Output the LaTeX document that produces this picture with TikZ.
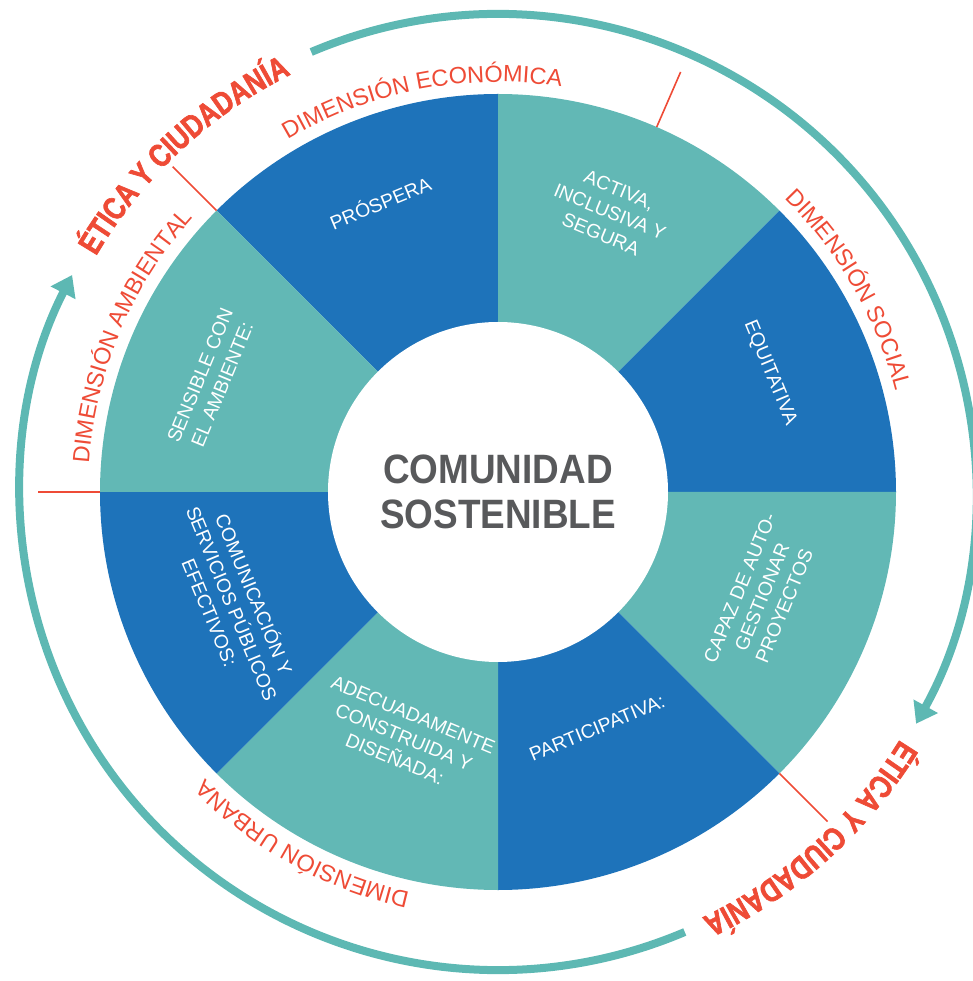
\documentclass[tikz,border=0pt]{standalone}
\usepackage{fontspec}
\setmainfont{Liberation Sans}
\newfontfamily\hubfont[FakeStretch=0.9]{Liberation Sans Bold}
\newfontfamily\eticafont[FakeStretch=0.8, FakeBold=2]{Liberation Sans Bold}
\usetikzlibrary{decorations.text, arrows.meta}
\definecolor{segblue}{HTML}{1E73BA}
\definecolor{segteal}{HTML}{62B8B5}
\definecolor{ringteal}{HTML}{5DB8B3}
\definecolor{dimred}{HTML}{EE4B36}
\definecolor{hubgray}{HTML}{58595B}
\newcommand\dimfnt{\fontsize{17.6}{20}\selectfont}
\newcommand\etifnt{\eticafont\fontsize{24}{26}\selectfont}
\tikzset{
  seglabel/.style={text=white, align=center, inner sep=0pt,
    font=\fontsize{14.5}{18}\selectfont},
  dimtext/.style={decorate, decoration={text along path, text align=center, text color=dimred}},
  ringarc/.style={draw=ringteal, line width=6pt, -{Triangle[length=15pt, width=20pt]}},
  sepline/.style={draw=dimred, line width=1.2pt},
  hubnode/.style={circle, fill=white, minimum size=255pt, inner sep=0pt, text=hubgray,
    align=center, font=\hubfont\fontsize{30.75}{33.75}\selectfont}
}
\begin{document}
\begin{tikzpicture}[x=0.75pt, y=0.75pt]
\useasboundingbox (-498,-489) rectangle (474,492);
% wheel sectors
\foreach \a/\c in {90/segblue, 45/segteal, 0/segblue, -45/segteal, -90/segblue, -135/segteal, 180/segblue, 135/segteal}
  \fill[\c] (0,0) -- (\a:398) arc[start angle=\a, delta angle=45, radius=398] -- cycle;
% hub
\node[hubnode] (hub) at (0,0) {COMUNIDAD\\SOSTENIBLE};
% segment labels
\node[seglabel, rotate=22.5] (prospera) at (-118,290) {PRÓSPERA};
\node[seglabel, rotate=-22.5] (activa) at (112,280) {ACTIVA,\\INCLUSIVA Y\\SEGURA};
\node[seglabel, rotate=-67.5] (equitativa) at (272,119) {EQUITATIVA};
\node[seglabel, rotate=67.5] (capaz) at (264,-105) {CAPAZ DE AUTO-\\GESTIONAR\\PROYECTOS};
\node[seglabel, rotate=22.5] (participativa) at (99,-236) {PARTICIPATIVA:};
\node[seglabel, rotate=-22.5] (adecuada) at (-94,-245) {ADECUADAMENTE\\CONSTRUIDA Y\\DISEÑADA:};
\node[seglabel, rotate=-67.5] (comunicacion) at (-265,-111) {COMUNICACIÓN Y\\SERVICIOS PÚBLICOS\\EFECTIVOS:};
\node[seglabel, rotate=67.5] (sensible) at (-287,112) {SENSIBLE CON\\EL AMBIENTE:};
% separators
\draw[sepline] (135:398) -- (135:460);
\draw[sepline] (66.5:398) -- (66.5:458);
\draw[sepline] (-45:398) -- (-45:466);
\draw[sepline] (180:398) -- (180:460);
% dimension labels
\path[dimtext, decoration={text={|\dimfnt|DIMENSIÓN ECONÓMICA}}] (146:410) arc[start angle=146, end angle=56, radius=410];
\path[dimtext, decoration={text={|\dimfnt|DIMENSIÓN SOCIAL}}] (75:410) arc[start angle=75, end angle=-15, radius=410];
\path[dimtext, decoration={text={|\dimfnt|DIMENSIÓN URBANA}}] (-74:410) arc[start angle=-74, end angle=-164, radius=410];
\path[dimtext, decoration={text={|\dimfnt|DIMENSIÓN AMBIENTAL}}] (202:410) arc[start angle=202, end angle=112, radius=410];
% ethics labels
\path[dimtext, decoration={text={|\etifnt|ÉTICA Y CIUDADANÍA}}] (173:466) arc[start angle=173, end angle=93, radius=466];
\path[dimtext, decoration={text={|\etifnt|ÉTICA Y CIUDADANÍA}}] (-8:472) arc[start angle=-8, end angle=-88, radius=472];
% ring arrows
\draw[ringarc] (113:478) arc[start angle=113, end angle=-29, radius=478];
\draw[ringarc] (-67:478) arc[start angle=-67, end angle=-207, radius=478];
\end{tikzpicture}
\end{document}
